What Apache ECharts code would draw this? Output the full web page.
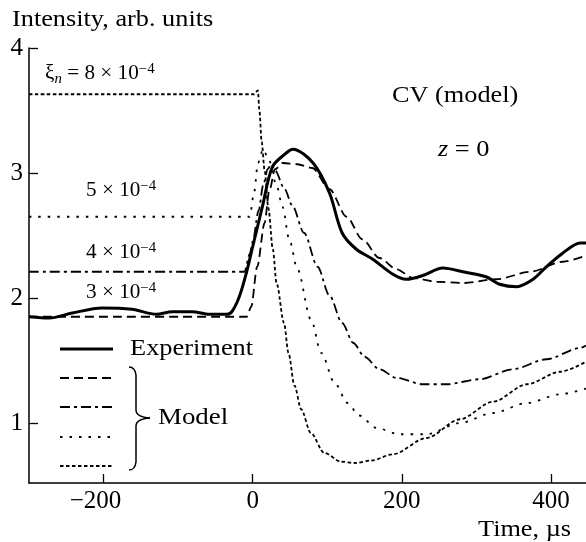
<!DOCTYPE html>
<html>
<head>
<meta charset="utf-8">
<script src="https://cdn.jsdelivr.net/npm/echarts@6/dist/echarts.min.js"></script>
<style>html,body{margin:0;padding:0;background:#fff}#c{width:586px;height:542px}</style>
</head>
<body>
<div id="c"></div>
<script>
// ---- data ----
const xTicks = [-200, 0, 200, 400];
const yTicks = [1, 2, 3, 4];

const expT = [-300,-273,-242,-202,-162,-129,-108,-81,-58,-35,-28,-18,-8.5,0,13,26.5,45,54,81,103,120,139,161,188,206,228,255,282,313,331,354,376,394,416,439,447];
const expV = [1.85,1.84,1.88,1.92,1.91,1.87,1.89,1.89,1.87,1.87,1.89,2.01,2.2,2.41,2.73,3.05,3.16,3.19,3.08,2.84,2.52,2.39,2.31,2.19,2.15,2.18,2.24,2.21,2.17,2.11,2.09,2.15,2.25,2.36,2.44,2.44];

// xi_n = 3e-4 (dashed)
const m3T = [-300,-8,-2,6,16,22,30,40,60,80,103,126,147,170,193,215,247,282,327,372,416,447];
const m3V = [1.85,1.85,1.93,2.25,2.6,2.85,3.03,3.08,3.07,3.04,2.87,2.65,2.47,2.32,2.23,2.16,2.13,2.12,2.15,2.21,2.29,2.34];

// xi_n = 4e-4 (dash-dot)
const m4T = [-300,-11,-4,0,8,14,20,25,30,43,53,69,87,103,120,135,150,170,193,228,260,304,349,394,439,447];
const m4V = [2.21,2.21,2.35,2.45,2.7,2.9,3.03,3.07,3.02,2.87,2.74,2.52,2.25,2.02,1.8,1.64,1.53,1.43,1.36,1.31,1.31,1.35,1.43,1.51,1.6,1.62];

// xi_n = 5e-4 (sparse dots)
const m5T = [-300,-4,2,7,14,22,32,40,49,60,78,92,110,127,143,166,197,233,278,322,368,412,447];
const m5V = [2.65,2.65,2.85,3.08,3.19,3.1,2.9,2.73,2.47,2.23,1.83,1.56,1.32,1.16,1.06,0.96,0.91,0.91,1.0,1.08,1.16,1.23,1.275];

// xi_n = 8e-4 (dense dots)
const m8T = [-300,2,7,9,12,16,21,27,32,42,48,56,65,78,96,119,137,159,188,233,278,322,368,412,447];
const m8V = [3.63,3.63,3.66,3.5,3.25,3.02,2.72,2.39,2.12,1.8,1.56,1.3,1.11,0.92,0.76,0.69,0.68,0.7,0.75,0.88,1.03,1.17,1.31,1.41,1.49];

const pairs = (t, v) => t.map((x, i) => [x, v[i]]);

const FONT = '"Liberation Serif", "Times New Roman", serif';
const chart = echarts.init(document.getElementById('c'), null, {renderer: 'canvas'});

const modelStyle = (type) => ({color: '#000', width: 1.8, type: type});

const supRich = {
  b: {fontSize: 20, fontFamily: FONT, color: '#000', lineHeight: 24},
  sup: {fontSize: 14, fontFamily: FONT, color: '#000', verticalAlign: 'top', lineHeight: 24},
  sub: {fontSize: 14, fontFamily: FONT, fontStyle: 'italic', color: '#000', verticalAlign: 'bottom', lineHeight: 24},
  xi: {fontSize: 20, fontFamily: FONT, color: '#000', lineHeight: 24}
};

function txt(x, y, text, size, sx) {
  return {
    type: 'text', x: x, y: y, scaleX: sx || 1.095, silent: true,
    style: {text: text, fill: '#000', font: size + 'px ' + FONT, textVerticalAlign: 'middle', textAlign: 'left'}
  };
}
function richTxt(x, y, text) {
  return {type: 'text', x: x, y: y, scaleX: 1.06, silent: true,
    style: {text: text, rich: supRich, fill: '#000', font: '20px ' + FONT, textVerticalAlign: 'middle', textAlign: 'left'}};
}
function seg(y, dash, w) {
  return {type: 'line', silent: true, shape: {x1: 60, y1: y, x2: 113, y2: y},
    style: {stroke: '#000', lineWidth: w || 1.8, lineDash: dash || null}};
}

const option = {
  backgroundColor: '#fff',
  animation: false,
  grid: {left: 29, right: 0, top: 48, bottom: 59, containLabel: false, outerBoundsMode: 'none'},
  xAxis: {
    type: 'value', min: -300, max: 447,
    axisLine: {show: true, onZero: false, lineStyle: {color: '#000', width: 1.5}},
    axisTick: {show: true, inside: true, length: 9, customValues: xTicks, lineStyle: {color: '#000', width: 1.3}},
    axisLabel: {customValues: xTicks, color: '#000', fontSize: 25, fontFamily: FONT, margin: 6,
      formatter: v => (v < 0 ? '{n|\u2212' + Math.abs(v) + '}{sp|}' : '{n|' + v + '}'),
      rich: {n: {fontSize: 25, fontFamily: FONT, color: '#000'}, sp: {width: 16}}},
    splitLine: {show: false}
  },
  yAxis: {
    type: 'value', min: 0.52, max: 4,
    axisLine: {show: true, onZero: false, lineStyle: {color: '#000', width: 1.5}},
    axisTick: {show: true, inside: true, length: 9, customValues: yTicks, lineStyle: {color: '#000', width: 1.3}},
    axisLabel: {customValues: yTicks, color: '#000', fontSize: 25, fontFamily: FONT, margin: 6},
    splitLine: {show: false}
  },
  series: [
    {name: 'Experiment', type: 'line', data: pairs(expT, expV), showSymbol: false, smooth: 0.3,
      lineStyle: {color: '#000', width: 3}, z: 5},
    {name: 'xi3', type: 'line', data: pairs(m3T, m3V), showSymbol: false, smooth: 0.3, smoothMonotone: 'x',
      lineStyle: modelStyle([9, 5])},
    {name: 'xi4', type: 'line', data: pairs(m4T, m4V), showSymbol: false, smooth: 0.3, smoothMonotone: 'x',
      lineStyle: modelStyle([10, 4, 3, 4])},
    {name: 'xi5', type: 'line', data: pairs(m5T, m5V), showSymbol: false, smooth: 0.3, smoothMonotone: 'x',
      lineStyle: modelStyle([2.5, 7])},
    {name: 'xi8', type: 'line', data: pairs(m8T, m8V), showSymbol: false, smooth: 0.3, smoothMonotone: 'x',
      lineStyle: modelStyle([3.5, 2.5])}
  ],
  graphic: [
    txt(12, 20, 'Intensity, arb. units', 24),
    txt(392, 96, 'CV (model)', 24),
    {type: 'text', x: 438, y: 150, scaleX: 1.1, silent: true,
      style: {text: '{i|z} = 0', rich: {i: {fontStyle: 'italic', fontSize: 24, fontFamily: FONT}}, fill: '#000', font: '24px ' + FONT, textVerticalAlign: 'middle'}},
    txt(478, 530, 'Time, \u00b5s', 24),
    richTxt(45, 74, '{xi|\u03be}{sub|n}{b| = 8 \u00d7 10}{sup|\u22124}'),
    richTxt(86, 191, '{b|5 \u00d7 10}{sup|\u22124}'),
    richTxt(86, 253, '{b|4 \u00d7 10}{sup|\u22124}'),
    richTxt(86, 293, '{b|3 \u00d7 10}{sup|\u22124}'),
    // legend
    seg(349, null, 3),
    seg(378, [9, 5]),
    seg(407, [10, 4, 3, 4]),
    seg(437, [2.5, 7]),
    seg(466, [3.5, 2.5]),
    txt(130, 349, 'Experiment', 24, 1.1),
    txt(158, 418, 'Model', 24, 1.12),
    {type: 'bezierCurve', silent: true, shape: {x1: 129, y1: 367, x2: 136, y2: 375, cpx1: 135, cpy1: 367}, style: {stroke: '#000', lineWidth: 1.5, fill: null}},
    {type: 'line', silent: true, shape: {x1: 136, y1: 375, x2: 136, y2: 410}, style: {stroke: '#000', lineWidth: 1.5}},
    {type: 'bezierCurve', silent: true, shape: {x1: 136, y1: 410, x2: 150, y2: 418, cpx1: 136, cpy1: 417}, style: {stroke: '#000', lineWidth: 1.5, fill: null}},
    {type: 'bezierCurve', silent: true, shape: {x1: 150, y1: 418, x2: 136, y2: 426, cpx1: 136, cpy1: 419}, style: {stroke: '#000', lineWidth: 1.5, fill: null}},
    {type: 'line', silent: true, shape: {x1: 136, y1: 426, x2: 136, y2: 462}, style: {stroke: '#000', lineWidth: 1.5}},
    {type: 'bezierCurve', silent: true, shape: {x1: 136, y1: 462, x2: 129, y2: 470, cpx1: 135, cpy1: 470}, style: {stroke: '#000', lineWidth: 1.5, fill: null}}
  ]
};
chart.setOption(option);
</script>
</body>
</html>
